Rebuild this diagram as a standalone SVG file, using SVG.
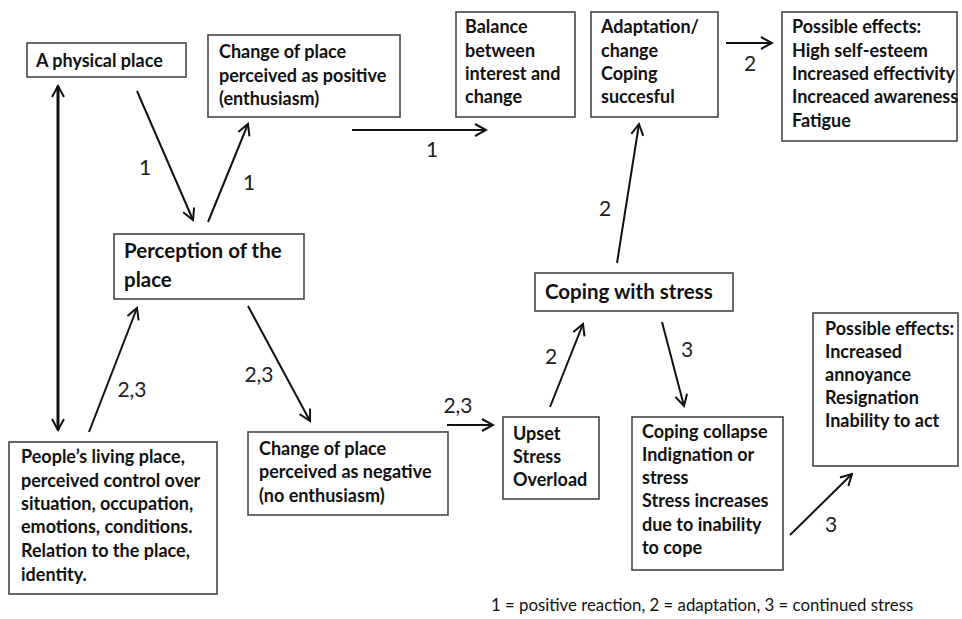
<svg xmlns="http://www.w3.org/2000/svg" width="962" height="619" viewBox="0 0 962 619">
<style>
.box{fill:#fff;stroke:#444;stroke-width:1.6}
.t{font-family:Lato,"Liberation Sans",sans-serif;font-weight:bold;font-size:18px;fill:#111}
.tl{font-family:Lato,"Liberation Sans",sans-serif;font-weight:bold;font-size:20.5px;fill:#111}
.n{font-family:Lato,"Liberation Sans",sans-serif;font-size:21px;fill:#222;text-anchor:middle}
.lg{font-family:Lato,"Liberation Sans",sans-serif;font-size:16.8px;fill:#111}
.a{stroke:#111;stroke-width:2;fill:none;marker-end:url(#ah)}
</style>
<defs>
<marker id="ah" markerUnits="userSpaceOnUse" markerWidth="14" markerHeight="14" viewBox="0 0 14 14" refX="12" refY="7" orient="auto-start-reverse">
<path d="M1,1 L12,7 L1,13" fill="none" stroke="#111" stroke-width="2"/>
</marker>
</defs>
<rect width="962" height="619" fill="#fff"/>
<g id="connectors">
<line class="a" x1="58" y1="430" x2="58" y2="86" style="stroke-width:3;marker-start:url(#ah)"/>
<line class="a" x1="137" y1="91" x2="193" y2="220"/>
<line class="a" x1="208" y1="222" x2="248" y2="124"/>
<line class="a" x1="352" y1="130" x2="486" y2="130"/>
<line class="a" x1="726" y1="43" x2="772" y2="43"/>
<line class="a" x1="89" y1="432" x2="137" y2="308"/>
<line class="a" x1="248" y1="306" x2="310" y2="421"/>
<line class="a" x1="447" y1="425" x2="493" y2="425"/>
<line class="a" x1="550" y1="407" x2="583" y2="324"/>
<line class="a" x1="617" y1="263" x2="639" y2="124"/>
<line class="a" x1="662" y1="322" x2="684" y2="406"/>
<line class="a" x1="790" y1="535" x2="852" y2="474"/>
</g>
<g id="labels">
<text class="n" x="145" y="175">1</text>
<text class="n" x="249" y="190">1</text>
<text class="n" x="432" y="157">1</text>
<text class="n" x="750" y="71">2</text>
<text class="n" x="605" y="216">2</text>
<text class="n" x="132" y="397">2,3</text>
<text class="n" x="259" y="382">2,3</text>
<text class="n" x="458" y="413">2,3</text>
<text class="n" x="551" y="364">2</text>
<text class="n" x="687" y="357">3</text>
<text class="n" x="831" y="532">3</text>
</g>
<g id="physical-place">
<rect class="box" x="27" y="43" width="159" height="34"/>
<text class="t" x="36" y="67">A physical place</text>
</g>
<g id="change-positive">
<rect class="box" x="208" y="35" width="192" height="82"/>
<text class="t" x="219" y="58">Change of place</text>
<text class="t" x="219" y="82">perceived as positive</text>
<text class="t" x="219" y="105">(enthusiasm)</text>
</g>
<g id="balance">
<rect class="box" x="456" y="12" width="119" height="105"/>
<text class="t" x="465" y="33">Balance</text>
<text class="t" x="465" y="57">between</text>
<text class="t" x="465" y="80">interest and</text>
<text class="t" x="465" y="103">change</text>
</g>
<g id="adaptation">
<rect class="box" x="591" y="12" width="127" height="105"/>
<text class="t" x="601" y="33">Adaptation/</text>
<text class="t" x="601" y="57">change</text>
<text class="t" x="601" y="80">Coping</text>
<text class="t" x="601" y="103">succesful</text>
</g>
<g id="effects-positive">
<rect class="box" x="782" y="12" width="175" height="129"/>
<text class="t" x="792" y="33">Possible effects:</text>
<text class="t" x="792" y="57">High self-esteem</text>
<text class="t" x="792" y="80">Increased effectivity</text>
<text class="t" x="792" y="103">Increaced awareness</text>
<text class="t" x="792" y="127">Fatigue</text>
</g>
<g id="perception">
<rect class="box" x="114" y="234" width="190" height="65"/>
<text class="tl" x="124" y="258">Perception of the</text>
<text class="tl" x="124" y="287">place</text>
</g>
<g id="coping-stress">
<rect class="box" x="535" y="273" width="198" height="38"/>
<text class="tl" x="545" y="299">Coping with stress</text>
</g>
<g id="living-place">
<rect class="box" x="9" y="442" width="208" height="152"/>
<text class="t" x="21" y="463">People’s living place,</text>
<text class="t" x="21" y="487">perceived control over</text>
<text class="t" x="21" y="510">situation, occupation,</text>
<text class="t" x="21" y="533">emotions, conditions.</text>
<text class="t" x="21" y="557">Relation to the place,</text>
<text class="t" x="21" y="581">identity.</text>
</g>
<g id="change-negative">
<rect class="box" x="248" y="432" width="200" height="83"/>
<text class="t" x="259" y="455">Change of place</text>
<text class="t" x="259" y="478">perceived as negative</text>
<text class="t" x="259" y="502">(no enthusiasm)</text>
</g>
<g id="upset">
<rect class="box" x="503" y="417" width="96" height="82"/>
<text class="t" x="513" y="440">Upset</text>
<text class="t" x="513" y="463">Stress</text>
<text class="t" x="513" y="486">Overload</text>
</g>
<g id="coping-collapse">
<rect class="box" x="632" y="417" width="151" height="153"/>
<text class="t" x="642" y="438">Coping collapse</text>
<text class="t" x="642" y="461">Indignation or</text>
<text class="t" x="642" y="484">stress</text>
<text class="t" x="642" y="507">Stress increases</text>
<text class="t" x="642" y="531">due to inability</text>
<text class="t" x="642" y="554">to cope</text>
</g>
<g id="effects-negative">
<rect class="box" x="813" y="313" width="145" height="153"/>
<text class="t" x="825" y="335">Possible effects:</text>
<text class="t" x="825" y="358">Increased</text>
<text class="t" x="825" y="381">annoyance</text>
<text class="t" x="825" y="404">Resignation</text>
<text class="t" x="825" y="427">Inability to act</text>
</g>
<g id="legend">
<text class="lg" x="491" y="611">1 = positive reaction, 2 = adaptation, 3 = continued stress</text>
</g>
</svg>
